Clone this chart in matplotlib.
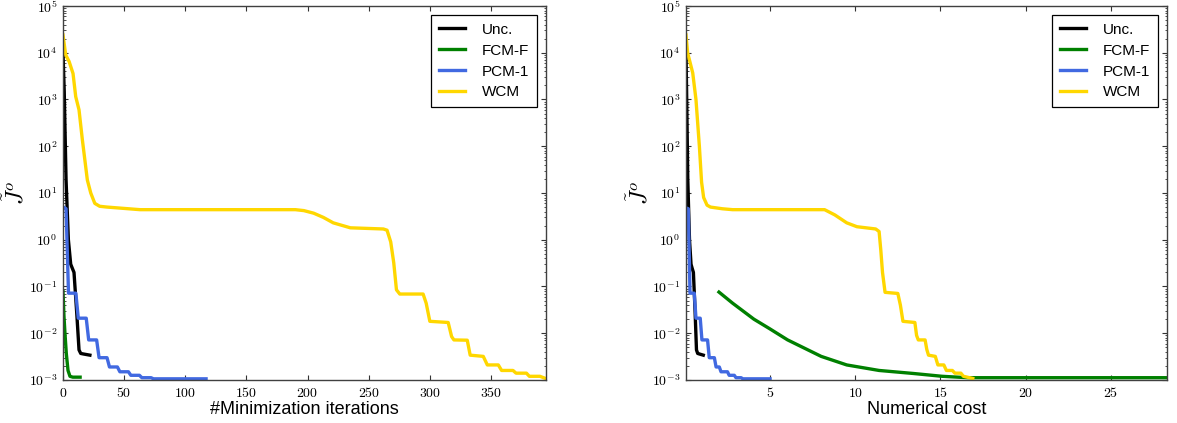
import numpy as np
import matplotlib
matplotlib.use("Agg")
import matplotlib.pyplot as plt
from matplotlib.ticker import FuncFormatter, LogLocator, NullFormatter

# values
labels = ["Unc.", "FCM-F", "PCM-1", "WCM"]
colors = ["black", "green", "royalblue", "gold"]
y_decades = [-3, -2, -1, 0, 1, 2, 3, 4, 5]

# --- objective vs. minimization iterations ---
unc_it = [0, 1.0, 2.5, 4.4, 6.3, 7.5, 9.0, 11.2, 13.1, 14.5, 16.7, 22]
unc_it_j = [1e4, 1.5e3, 19, 1.0, 0.3, 0.25, 0.2, 0.028, 0.0044, 0.0037, 0.0036, 0.0034]

fcm_it = [0, 0.8, 1.6, 2.7, 4.1, 5.7, 8, 14]
fcm_it_j = [0.078, 0.023, 0.01, 0.0037, 0.0016, 0.0012, 0.00115, 0.00115]

pcm_it = [1.5, 2.5, 4.5, 10.5, 12.5, 19.0, 21.0, 27.5, 29.5, 36.0, 38.0, 44.5, 46.5,
          53.5, 55.5, 62.5, 64.5, 72.0, 74.0, 117]
pcm_it_j = [4.8, 4.6, 0.072, 0.072, 0.021, 0.021, 0.0072, 0.0072, 0.003, 0.003, 0.0019,
            0.0019, 0.0015, 0.0015, 0.00126, 0.00126, 0.00112, 0.00112, 0.00106, 0.00106]

wcm_it = [0, 2.2, 5, 8.2, 10.4, 13.1, 15.8, 19.9, 22.7, 26, 30, 36, 63, 190, 197, 205,
          213, 221, 235, 262, 265, 268, 270.5, 272.7, 275.4, 294.5, 297, 300, 315, 317.8,
          319.7, 330.6, 333, 343.7, 347, 356, 358.7, 368, 370.5, 379, 381.4, 390, 395]
wcm_it_j = [2.4e4, 9e3, 6.5e3, 3.6e3, 1.15e3, 600, 140, 19, 10, 6.0, 5.2, 5.0, 4.4, 4.4,
            4.2, 3.7, 3.0, 2.3, 1.8, 1.7, 1.6, 0.9, 0.32, 0.085, 0.069, 0.069, 0.044,
            0.018, 0.017, 0.0085, 0.0072, 0.0071, 0.0034, 0.0032, 0.0021, 0.0021, 0.0016,
            0.0016, 0.0014, 0.0014, 0.0012, 0.0012, 0.00107]

# --- objective vs. numerical cost ---
unc_cost = [0.065, 0.1, 0.17, 0.27, 0.36, 0.42, 0.5, 0.6, 0.68, 0.75, 0.85, 1.08]
unc_cost_j = unc_it_j

fcm_cost = [2.0, 2.8, 4.05, 4.96, 6.03, 8.0, 9.5, 11.4, 13.4, 15.1, 16.6, 28.3]
fcm_cost_j = [0.076, 0.044, 0.02, 0.0126, 0.0072, 0.0032, 0.0021, 0.0016, 0.00138,
              0.0012, 0.00112, 0.00112]

pcm_cost = [0.065, 0.2, 0.3, 0.55, 0.65, 0.9, 1.0, 1.33, 1.43, 1.73, 1.83, 2.02, 2.12,
            2.5, 2.6, 2.9, 3.0, 3.3, 3.4, 5.0]
pcm_cost_j = pcm_it_j

wcm_cost = [0.065, 0.16, 0.46, 0.65, 0.85, 0.98, 1.1, 1.3, 1.5, 2.2, 2.8, 8.2, 8.8, 9.5,
            10.1, 11.2, 11.4, 11.5, 11.6, 11.75, 12.5, 12.65, 12.8, 13.5, 13.6, 13.7,
            14.1, 14.2, 14.3, 14.7, 14.85, 15.2, 15.35, 15.7, 15.85, 16.2, 16.35, 16.9]
wcm_cost_j = [2.4e4, 1e4, 3.7e3, 1e3, 100, 17, 8, 5.5, 5.0, 4.6, 4.4, 4.4, 3.4, 2.3, 1.9,
              1.7, 1.5, 0.6, 0.2, 0.075, 0.071, 0.04, 0.018, 0.017, 0.009, 0.0072,
              0.0072, 0.0045, 0.0034, 0.0032, 0.0021, 0.0021, 0.0016, 0.0016, 0.0014,
              0.0014, 0.0012, 0.00108]

plt.rcParams["mathtext.fontset"] = "cm"
plt.rcParams["xtick.direction"] = "in"
plt.rcParams["ytick.direction"] = "in"
plt.rcParams["xtick.top"] = True
plt.rcParams["ytick.right"] = True

W, H = 1177, 423
fig = plt.figure(figsize=(W / 100, H / 100), dpi=100)


def setup_axes(ax, xlabel, xlim, xticks):
    ax.set_yscale("log")
    ax.set_ylim(1e-3, 1e5)
    ax.set_xlim(*xlim)
    ax.set_xticks(xticks)
    ax.xaxis.set_major_formatter(FuncFormatter(lambda v, p: r"$%d$" % round(v)))
    ax.set_yticks([10.0 ** d for d in y_decades])
    ax.yaxis.set_minor_locator(LogLocator(base=10, subs=np.arange(2, 10), numticks=20))
    ax.yaxis.set_minor_formatter(NullFormatter())
    ax.yaxis.set_major_formatter(FuncFormatter(lambda v, p: r"$10^{%d}$" % round(np.log10(v))))
    ax.tick_params(which="major", length=3.5, width=0.8, labelsize=10, pad=4, color="0.2")
    ax.tick_params(which="minor", length=1.8, width=0.6, color="0.2")
    for s in ax.spines.values():
        s.set_color("0.25")
        s.set_linewidth(1.0)
    ax.set_xlabel(xlabel, family="Liberation Sans", fontsize=13, labelpad=1)
    ax.set_ylabel(r"$\tilde{J}^o$", fontsize=17)
    ax.yaxis.set_label_coords(-34 / 483, 0.5)
    leg = ax.legend(loc="upper right", prop={"family": "Liberation Sans", "size": 11},
                    fancybox=False, framealpha=1, edgecolor="black",
                    handlelength=1.7, handletextpad=1.1, borderpad=0.5,
                    labelspacing=0.45, borderaxespad=0.6)
    leg.get_frame().set_linewidth(0.9)


ax1 = fig.add_axes([63 / W, 1 - 380 / H, 483 / W, 374 / H])
for xs, ys, lab, col in zip([unc_it, fcm_it, pcm_it, wcm_it],
                            [unc_it_j, fcm_it_j, pcm_it_j, wcm_it_j], labels, colors):
    ax1.plot(xs, ys, color=col, lw=2.4, label=lab)
setup_axes(ax1, "#Minimization iterations", (0, 395), [0, 50, 100, 150, 200, 250, 300, 350])

ax2 = fig.add_axes([686 / W, 1 - 380 / H, 481 / W, 374 / H])
for xs, ys, lab, col in zip([unc_cost, fcm_cost, pcm_cost, wcm_cost],
                            [unc_cost_j, fcm_cost_j, pcm_cost_j, wcm_cost_j], labels, colors):
    ax2.plot(xs, ys, color=col, lw=2.4, label=lab)
setup_axes(ax2, "Numerical cost", (0.065, 28.3), [5, 10, 15, 20, 25])

fig.savefig("out.png", dpi=100)
